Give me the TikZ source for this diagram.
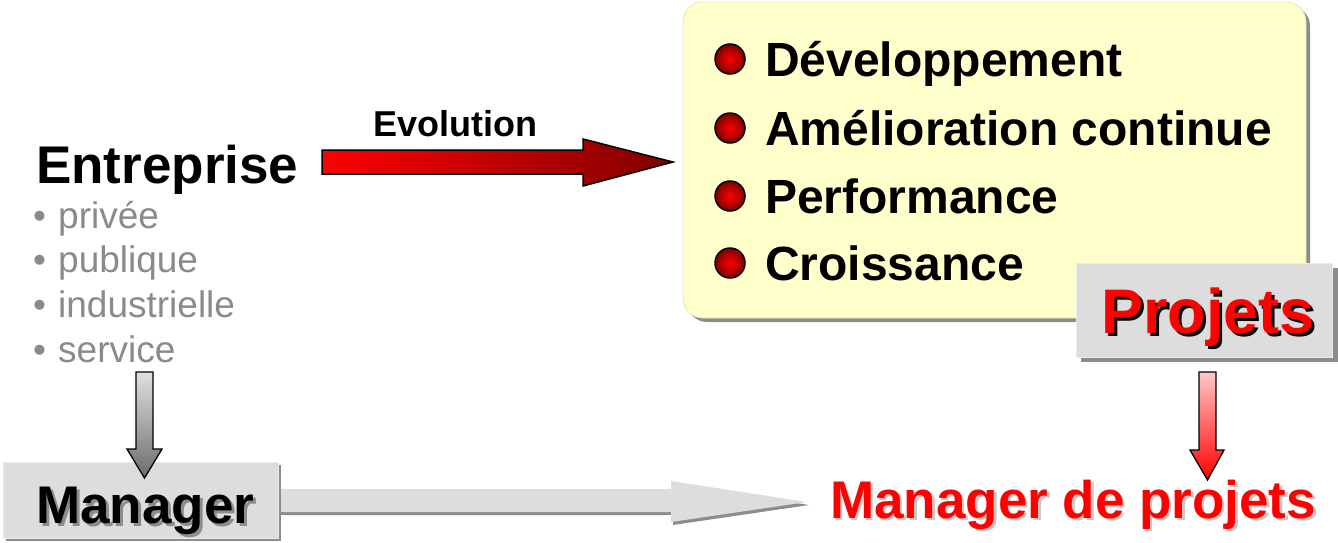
\documentclass[tikz,border=0pt]{standalone}
\usepackage{fontspec}
\setmainfont{Liberation Sans}
\definecolor{ylw}{HTML}{FFFFCC}
\definecolor{ylwedge}{HTML}{E6E6B8}
\definecolor{boxg}{HTML}{DDDDDD}
\definecolor{shd}{HTML}{8C8C8C}
\definecolor{txtg}{HTML}{8A8A8A}
\definecolor{dred}{HTML}{800000}
\definecolor{pnk}{HTML}{FFC8C8}
\definecolor{lshd}{HTML}{C8C8C8}
\newcommand{\shadowed}[4]{\rlap{\hspace{#2}\raisebox{-#3}{\textcolor{#1}{#4}}}#4}
\begin{document}
\begin{tikzpicture}[x=1pt,y=-1pt,
  txt/.style={inner sep=0pt, anchor=base west},
  listtxt/.style={txt, font=\fontsize{48}{48}\selectfont\bfseries},
  graytxt/.style={txt, text=txtg, font=\fontsize{37}{37}\selectfont},
  bigtxt/.style={txt, font=\fontsize{53}{53}\selectfont\bfseries},
  ball/.style={circle, minimum size=30pt, inner sep=0pt, draw=black, line width=1.5pt, inner color=red, outer color=red!50!black},
  blockarrow/.style={draw=black, line width=1.5pt},
  graybox/.style={fill=boxg, draw=white!92!black, line width=0.6pt},
  boxshadow/.style={fill=shd}
]
\useasboundingbox (0,0) rectangle (1338,542);

% yellow panel
\fill[shd, rounded corners=20pt] (687,6) rectangle (1310,322);
\draw[fill=ylw, draw=ylwedge, line width=0.8pt, rounded corners=20pt] (683,2) rectangle (1306,318);

% list in the panel
\foreach \yy/\nm/\tx in {76/a/{Développement},145/b/{Amélioration continue},213/c/{Performance},280/d/{Croissance}}{
  \node[ball] (ball\nm) at (730,\yy-17) {};
  \node[listtxt] (item\nm) at (765,\yy) {\tx};
}

% Entreprise
\node[txt, font=\fontsize{53}{53}\selectfont\bfseries] (ent) at (36,183) {Entreprise};
\foreach \yy/\nm/\tx in {228/p/{privée},272/q/{publique},317/r/{industrielle},362/s/{service}}{
  \node[graytxt] (dot\nm) at (33,\yy) {•};
  \node[graytxt] (lst\nm) at (58,\yy) {\tx};
}

% Evolution arrow
\node[inner sep=0pt, anchor=base, font=\fontsize{36}{36}\selectfont\bfseries] (evo) at (455,136) {Evolution};
\shadedraw[blockarrow, left color=red, right color=dred]
  (322,150) -- (583,150) -- (583,139) -- (673,162) -- (583,186) -- (583,174) -- (322,174) -- cycle;

% big gray arrow
\fill[shd] (280,492) -- (673,492) -- (673,484) -- (809,505) -- (673,525) -- (673,515) -- (280,515) -- cycle;
\fill[boxg] (278,489) -- (671,489) -- (671,481) -- (807,502) -- (671,522) -- (671,512) -- (278,512) -- cycle;

% Manager box
\fill[boxshadow] (6,465) rectangle (281,541);
\draw[graybox] (3,462) rectangle (278,538);
\node[bigtxt] (mgr) at (36,523) {\shadowed{shd}{3pt}{3pt}{Manager}};

% down arrow to Manager
\shadedraw[blockarrow, line width=1.3pt, top color=white!88!black, bottom color=white!42!black]
  (136,372) -- (153,372) -- (153,449) -- (162,449) -- (144.5,478) -- (127,449) -- (136,449) -- cycle;

% Manager de projets
\node[bigtxt, text=red] (mdp) at (830,518) {\shadowed{lshd}{2.5pt}{2.5pt}{Manager de projets}};

% Projets box
\fill[boxshadow] (1081,268) rectangle (1338,362);
\draw[graybox] (1076,263) rectangle (1332,357);
\node[txt, text=red, font=\fontsize{63}{63}\selectfont\bfseries] (prj) at (1101,333) {\shadowed{black}{3pt}{3pt}{Projets}};

% down arrow from Projets
\shadedraw[blockarrow, line width=1.3pt, top color=pnk, bottom color=red]
  (1199,372) -- (1216,372) -- (1216,450) -- (1224,450) -- (1207.5,480) -- (1190,450) -- (1199,450) -- cycle;
\end{tikzpicture}
\end{document}
